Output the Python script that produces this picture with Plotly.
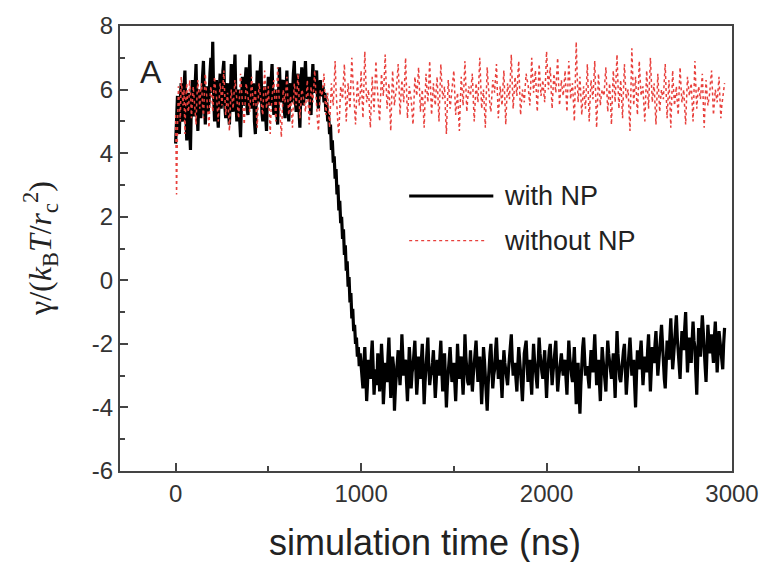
import plotly.graph_objects as go

# ---------------- data (sampled every 5 ns) ----------------
gamma_with = [
    4.3, 5.1, 5.8, 4.9, 4.6, 5.7, 6.2, 5.0, 5.1, 6.0, 6.6, 5.3, 4.4, 5.5, 5.9, 4.8, 4.1, 5.6, 6.3, 5.2,
    5.2, 6.1, 6.8, 5.4, 4.7, 5.8, 6.0, 5.1, 5.4, 6.4, 6.9, 5.6, 4.9, 5.7, 6.1, 5.3, 5.6, 6.5, 7.0, 5.9,
    7.5, 5.8, 5.0, 5.9, 6.3, 5.2, 4.8, 5.9, 6.5, 5.4, 5.7, 6.6, 6.9, 5.5, 5.1, 6.0, 6.2, 5.3, 4.9, 5.8,
    6.8, 5.6, 5.3, 6.4, 7.1, 5.7, 5.0, 5.8, 6.0, 5.1, 4.5, 5.6, 6.4, 5.5, 5.6, 6.3, 6.7, 5.4, 5.2, 6.1,
    7.1, 5.9, 5.4, 5.9, 6.2, 5.0, 4.6, 5.7, 6.6, 5.6, 5.8, 6.5, 6.9, 5.3, 5.0, 5.8, 6.1, 5.2, 4.7, 5.9,
    6.4, 5.7, 5.5, 6.3, 6.8, 5.6, 5.2, 5.8, 6.0, 5.3, 4.9, 5.9, 6.7, 5.8, 5.6, 6.2, 6.3, 5.4, 5.1, 6.0,
    6.6, 5.5, 5.0, 5.8, 6.2, 5.6, 5.8, 6.5, 6.9, 5.7, 5.3, 6.0, 6.5, 5.4, 4.8, 5.9, 6.7, 5.8, 5.5, 6.3,
    6.9, 6.0, 5.7, 6.2, 6.4, 5.5, 5.2, 6.1, 6.8, 6.0, 5.9, 6.4, 6.6, 5.7, 5.4, 6.0, 6.3, 5.9, 5.8, 6.1,
    5.6, 5.9, 5.3, 5.6, 5.0, 5.2, 4.6, 4.9, 4.1, 4.4, 3.7, 3.9, 3.2, 3.5, 2.7, 3.0, 2.2, 2.5, 1.8, 2.0,
    1.3, 1.6, 0.8, 1.1, 0.3, 0.6, -0.2, 0.1, -0.7, -0.4, -1.2, -0.9, -1.6, -1.4, -2.0, -1.8, -2.4, -2.1, -2.7, -2.3,
    -2.7, -3.1, -3.4, -2.6, -2.1, -2.9, -3.8, -3.2, -2.5, -2.8, -3.1, -2.4, -1.9, -2.7, -3.6, -3.0, -2.8, -3.3, -2.3, -2.6,
    -3.5, -2.9, -2.0, -2.6, -3.9, -3.3, -2.6, -2.9, -3.2, -2.4, -1.8, -2.8, -3.7, -3.1, -2.4, -2.7, -4.1, -3.4, -2.9, -2.5,
    -2.2, -2.8, -3.3, -2.7, -1.7, -2.4, -3.0, -2.6, -2.5, -3.2, -3.8, -3.0, -2.1, -2.6, -3.4, -2.9, -2.7, -2.3, -1.9, -2.8,
    -3.6, -3.1, -2.4, -2.8, -3.1, -2.5, -2.0, -2.9, -3.9, -3.2, -2.6, -2.3, -1.8, -2.7, -3.3, -3.0, -2.9, -2.6, -2.2, -3.0,
    -3.7, -3.2, -2.5, -2.7, -3.0, -2.4, -1.9, -2.8, -3.5, -2.9, -2.3, -3.1, -4.0, -3.3, -2.8, -2.5, -2.1, -2.7, -3.2, -2.9,
    -2.6, -3.2, -3.8, -3.0, -2.0, -2.7, -3.1, -2.6, -2.4, -3.0, -3.6, -2.9, -1.7, -2.4, -2.9, -3.2, -3.3, -2.8, -2.2, -2.9,
    -3.5, -3.0, -2.7, -2.3, -1.9, -2.6, -3.2, -2.8, -2.4, -3.1, -3.9, -3.2, -2.1, -2.5, -3.0, -3.6, -4.1, -3.3, -2.6, -2.3,
    -2.0, -2.7, -3.4, -3.0, -2.8, -2.2, -1.8, -2.5, -3.1, -2.7, -2.5, -3.1, -3.7, -2.9, -2.2, -2.6, -2.9, -3.2, -3.3, -2.8,
    -2.4, -2.0, -1.7, -2.5, -3.0, -2.8, -2.6, -3.1, -3.5, -2.7, -2.1, -2.5, -2.8, -3.3, -3.8, -3.0, -2.3, -2.1, -1.9, -2.6,
    -3.2, -2.8, -2.5, -3.1, -3.6, -2.7, -2.0, -2.5, -2.9, -3.2, -3.4, -2.6, -1.8, -2.3, -2.7, -2.9, -3.1, -2.6, -2.2, -3.0,
    -3.7, -3.0, -2.4, -2.2, -2.0, -2.7, -3.3, -2.9, -2.6, -2.2, -1.9, -2.8, -3.5, -3.1, -2.8, -2.5, -2.3, -2.7, -3.0, -2.7,
    -2.5, -3.1, -3.6, -2.7, -1.9, -2.4, -2.8, -3.0, -3.2, -2.6, -2.1, -3.0, -3.9, -3.2, -2.6, -3.4, -4.2, -3.3, -2.4, -2.1,
    -1.8, -2.4, -3.0, -2.8, -2.7, -3.1, -3.4, -2.7, -2.2, -2.6, -2.9, -2.3, -1.7, -2.5, -3.3, -2.9, -2.5, -3.2, -3.8, -2.9,
    -2.1, -2.5, -2.8, -3.2, -3.5, -2.6, -1.9, -2.3, -2.6, -2.9, -3.1, -2.7, -2.3, -3.0, -3.7, -2.6, -1.6, -2.3, -2.9, -3.1,
    -3.2, -2.8, -2.4, -2.2, -2.0, -2.9, -3.6, -3.1, -2.7, -2.2, -1.8, -2.4, -3.0, -2.7, -2.5, -3.3, -4.0, -3.0, -2.2, -2.5,
    -2.8, -2.3, -1.9, -2.6, -3.3, -2.8, -2.4, -2.6, -2.9, -2.2, -1.7, -2.6, -3.5, -2.8, -2.1, -2.4, -2.6, -2.0, -1.6, -2.3,
    -3.0, -2.6, -2.3, -1.8, -1.4, -2.1, -2.7, -3.1, -3.4, -2.6, -1.9, -2.2, -2.5, -1.8, -1.2, -2.0, -2.8, -2.4, -2.0, -1.6,
    -1.1, -1.8, -2.4, -2.8, -3.1, -2.3, -1.6, -1.9, -2.2, -1.5, -1.0, -2.0, -2.9, -2.3, -1.8, -2.2, -2.6, -1.9, -1.3, -1.9,
    -2.1, -2.9, -3.6, -2.5, -1.5, -1.9, -2.4, -1.7, -1.1, -1.6, -2.0, -2.7, -3.2, -2.2, -1.4, -1.9, -2.3, -2.0, -1.7, -2.2,
    -2.6, -1.8, -1.3, -2.1, -2.9, -2.3, -1.6, -1.9, -2.2, -2.6, -2.8, -2.0, -1.5,
]
t_with = [i * 5 for i in range(len(gamma_with))]

gamma_without = [
    5.2, 2.7, 4.8, 6.1, 5.6, 5.0, 6.4, 5.9, 5.5, 6.0, 4.6, 5.7, 6.2, 5.4, 5.3, 6.3, 6.0, 5.1, 5.8, 6.1,
    5.7, 5.2, 4.9, 5.8, 6.3, 5.9, 5.4, 6.0, 6.2, 5.5, 5.1, 5.9, 6.5, 6.0, 5.6, 5.2, 4.8, 5.7, 6.1, 5.8,
    5.3, 5.9, 6.4, 6.0, 5.8, 5.4, 5.0, 5.7, 6.2, 5.9, 5.5, 6.1, 6.6, 5.8, 5.2, 5.6, 5.9, 5.3, 4.7, 5.5,
    6.0, 5.7, 5.4, 5.9, 6.3, 6.0, 5.7, 5.3, 5.1, 5.9, 6.5, 6.0, 5.6, 5.2, 4.9, 5.6, 6.2, 6.0, 5.8, 5.5,
    5.3, 5.9, 6.4, 5.8, 5.5, 5.8, 6.0, 5.3, 4.8, 5.6, 6.2, 5.9, 5.7, 5.4, 5.2, 6.0, 6.6, 6.0, 5.4, 5.7,
    6.1, 5.3, 4.6, 5.4, 5.9, 6.1, 6.3, 5.6, 5.0, 5.9, 6.7, 6.1, 5.5, 5.0, 4.5, 5.3, 6.0, 5.8, 5.6, 6.0,
    6.4, 5.7, 5.2, 5.5, 5.8, 5.3, 4.8, 5.6, 6.2, 5.9, 5.5, 6.0, 6.5, 5.8, 5.1, 5.5, 6.0, 5.9, 5.7, 5.5,
    5.3, 5.8, 6.3, 5.6, 4.9, 5.5, 6.1, 5.8, 5.6, 6.1, 6.6, 6.0, 5.4, 5.0, 4.7, 5.4, 6.0, 5.9, 5.8, 6.2,
    6.5, 5.8, 5.2, 5.6, 5.9, 5.3, 4.8, 5.5, 6.2, 5.8, 5.5, 6.2, 6.9, 6.0, 5.3, 4.9, 4.6, 5.4, 6.1, 5.9,
    5.7, 6.3, 6.8, 5.9, 5.0, 5.6, 6.2, 5.8, 5.4, 6.2, 7.0, 6.4, 5.8, 5.3, 4.9, 5.6, 6.3, 5.9, 5.5, 5.8,
    6.6, 5.8, 5.1, 6.1, 7.2, 6.4, 5.6, 5.8, 6.0, 5.4, 4.8, 5.6, 6.4, 5.8, 5.3, 6.1, 6.9, 6.3, 5.7, 5.4,
    5.0, 5.8, 6.5, 6.1, 5.8, 6.4, 7.1, 6.2, 5.4, 5.8, 6.2, 5.4, 4.7, 5.7, 6.6, 6.0, 5.5, 5.8, 6.0, 6.4,
    6.8, 6.0, 5.2, 5.8, 6.3, 5.9, 5.6, 6.3, 7.0, 6.0, 5.1, 5.6, 6.1, 5.9, 5.7, 5.3, 4.9, 5.6, 6.4, 6.1,
    5.8, 6.2, 6.7, 6.0, 5.3, 5.7, 6.0, 5.4, 4.8, 5.7, 6.5, 6.0, 5.6, 6.2, 6.9, 6.0, 5.2, 5.7, 6.2, 5.8,
    5.5, 6.0, 6.4, 5.7, 5.0, 5.9, 6.8, 6.2, 5.7, 5.9, 6.1, 5.3, 4.6, 5.5, 6.3, 5.9, 5.4, 5.7, 6.0, 6.3,
    6.6, 5.9, 5.2, 5.6, 5.9, 5.3, 4.7, 5.6, 6.4, 6.0, 5.5, 6.2, 6.9, 6.1, 5.3, 5.7, 6.1, 6.0, 5.8, 6.2,
    6.5, 5.7, 5.0, 5.6, 6.2, 5.9, 5.6, 6.3, 7.0, 6.2, 5.4, 5.7, 6.0, 5.4, 4.8, 5.8, 6.7, 6.2, 5.7, 5.5,
    5.3, 5.8, 6.3, 6.1, 5.9, 6.4, 6.8, 5.9, 5.1, 5.6, 6.1, 5.8, 5.5, 6.1, 6.6, 5.7, 4.9, 5.6, 6.2, 5.9,
    5.7, 6.4, 7.1, 6.2, 5.4, 5.9, 6.4, 6.1, 5.8, 6.4, 6.9, 6.0, 5.2, 5.6, 6.0, 5.8, 5.6, 6.1, 6.5, 6.3,
    6.2, 5.8, 5.5, 6.2, 7.0, 6.4, 5.9, 6.3, 6.6, 5.9, 5.3, 6.0, 6.8, 6.3, 5.8, 6.0, 6.3, 5.9, 5.6, 6.4,
    7.2, 6.6, 6.0, 6.4, 6.7, 6.0, 5.4, 6.0, 6.5, 6.2, 5.9, 6.5, 7.0, 6.2, 5.5, 5.9, 6.3, 6.0, 5.8, 6.2,
    6.6, 5.9, 5.3, 6.1, 6.9, 6.3, 5.7, 6.0, 6.2, 5.6, 5.0, 6.2, 7.5, 6.5, 5.6, 6.0, 6.4, 5.8, 5.2, 5.7,
    6.1, 5.7, 5.4, 6.1, 6.8, 5.9, 5.0, 5.7, 6.3, 6.0, 5.7, 6.3, 6.9, 5.8, 4.8, 5.6, 6.5, 6.0, 5.5, 5.8,
    6.0, 5.9, 5.8, 6.3, 6.7, 6.0, 5.3, 5.8, 6.2, 5.6, 4.9, 5.8, 6.6, 6.1, 5.6, 6.4, 7.1, 6.2, 5.4, 5.9,
    6.3, 5.7, 5.1, 6.0, 6.8, 6.2, 5.7, 5.9, 6.0, 5.3, 4.7, 6.0, 7.3, 6.4, 5.5, 6.0, 6.4, 5.8, 5.2, 6.0,
    6.9, 6.3, 5.8, 6.0, 6.1, 5.5, 5.0, 5.8, 6.6, 6.0, 5.4, 6.2, 7.0, 6.3, 5.6, 5.9, 6.2, 5.5, 4.9, 5.7,
    6.5, 5.9, 5.3, 5.7, 6.0, 5.8, 5.7, 6.3, 6.8, 5.9, 5.1, 5.7, 6.3, 5.6, 4.8, 5.7, 6.6, 6.0, 5.5, 5.8,
    6.1, 5.6, 5.2, 6.0, 6.7, 6.1, 5.6, 5.8, 6.0, 5.4, 4.9, 5.7, 6.4, 6.1, 5.8, 6.0, 6.2, 5.6, 5.0, 5.9,
    6.9, 6.1, 5.4, 5.8, 6.1, 5.9, 5.7, 6.1, 6.5, 5.6, 4.8, 5.6, 6.3, 5.9, 5.5, 5.7, 5.9, 6.3, 6.6, 5.9,
    5.2, 5.6, 6.0, 5.8, 5.6, 6.0, 6.4, 5.7, 5.1, 5.5, 5.8, 6.0, 6.2,
]
t_without = [i * 5 for i in range(len(gamma_without))]

x_ticks = [0, 1000, 2000, 3000]
x_ticklabels = ["0", "1000", "2000", "3000"]
y_ticks = [-6, -4, -2, 0, 2, 4, 6, 8]
y_ticklabels = ["-6", "-4", "-2", "0", "2", "4", "6", "8"]

series_names = ["with NP", "without NP"]
BLACK = "#000000"
RED = "#e8403c"

# ---------------- figure ----------------
fig = go.Figure()
fig.add_trace(go.Scatter(x=t_with, y=gamma_with, mode="lines", name=series_names[0],
                         line=dict(color=BLACK, width=3.2), showlegend=False))
fig.add_trace(go.Scatter(x=t_without, y=gamma_without, mode="lines", name=series_names[1],
                         line=dict(color=RED, width=1.5, dash="dot"), showlegend=False))

axis_common = dict(showline=True, linecolor="#444", linewidth=2, mirror=True,
                   ticks="inside", ticklen=8, tickwidth=1.5, tickcolor="#444",
                   showgrid=False, zeroline=False,
                   tickfont=dict(family="Liberation Sans, Arial", size=24, color="#333"))

fig.update_xaxes(range=[-300, 3000], tickvals=x_ticks, ticktext=x_ticklabels,
                 minor=dict(dtick=500, tick0=0, ticks="inside", ticklen=5, tickcolor="#444", tickwidth=1.5),
                 **axis_common)
fig.update_yaxes(range=[-6, 8], tickvals=y_ticks, ticktext=y_ticklabels,
                 minor=dict(dtick=1, tick0=0, ticks="inside", ticklen=5, tickcolor="#444", tickwidth=1.5),
                 **axis_common)

# legend drawn manually (long sample lines as in the reference)
fig.add_shape(type="line", xref="paper", yref="paper", x0=0.4725, x1=0.610, y0=0.6178, y1=0.6178,
              line=dict(color=BLACK, width=3))
fig.add_shape(type="line", xref="paper", yref="paper", x0=0.4725, x1=0.600, y0=0.5178, y1=0.5178,
              line=dict(color=RED, width=1.4, dash="dot"))

legend_font = dict(family="Liberation Sans, Arial", size=27, color="#222")
fig.add_annotation(xref="paper", yref="paper", x=0.624, y=0.6178, text=series_names[0],
                   showarrow=False, xanchor="left", yanchor="middle", font=legend_font)
fig.add_annotation(xref="paper", yref="paper", x=0.624, y=0.5178, text=series_names[1],
                   showarrow=False, xanchor="left", yanchor="middle", font=legend_font)

# panel label
fig.add_annotation(xref="paper", yref="paper", x=0.050, y=0.8956, text="A", showarrow=False,
                   xanchor="center", yanchor="middle",
                   font=dict(family="Liberation Sans, Arial", size=32, color="#222"))

# axis titles
fig.add_annotation(xref="paper", yref="paper", x=0.498, y=-0.16, text="simulation time (ns)",
                   showarrow=False, xanchor="center", yanchor="middle",
                   font=dict(family="Liberation Sans, Arial", size=36, color="#222"))
fig.add_annotation(xref="paper", yref="paper", x=-0.13, y=0.5,
                   text="γ/(<i>k</i><sub>B</sub><i>T</i>/<i>r</i><sub>c</sub><sup>2</sup>)",
                   textangle=-90, showarrow=False, xanchor="center", yanchor="middle",
                   font=dict(family="Liberation Serif, Times New Roman", size=32, color="#222"))

fig.update_layout(width=771, height=562, margin=dict(l=120, r=33, t=21, b=91),
                  plot_bgcolor="white", paper_bgcolor="white")

fig.write_html("out.html")
